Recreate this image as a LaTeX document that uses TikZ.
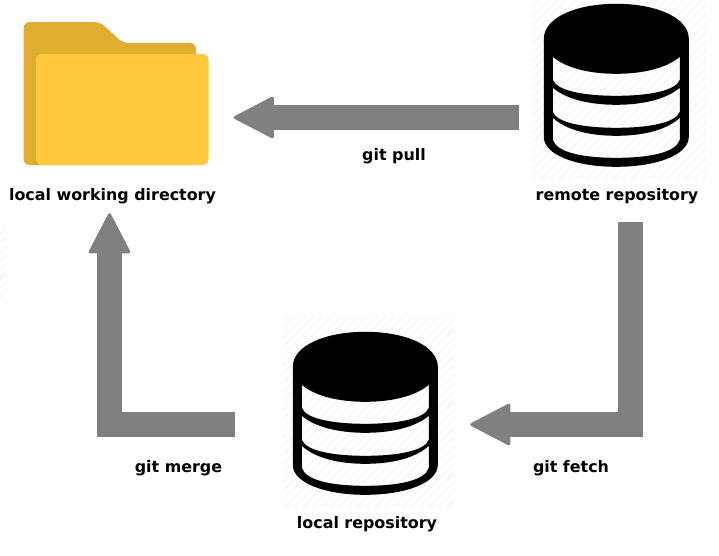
\documentclass[tikz,border=0pt]{standalone}
\usepackage{fontspec}
\setmainfont{DejaVu Sans}
\usetikzlibrary{arrows.meta}
\definecolor{folderback}{HTML}{DFAD30}
\definecolor{folderfront}{HTML}{FFC83D}
\definecolor{hatchgray}{HTML}{F6F6F6}
\tikzset{
  lbl/.style={font=\fontsize{15.9}{18}\selectfont\bfseries, inner sep=0pt, text height=12pt, text depth=3pt},
  iconbox/.style={inner sep=0pt, minimum width=145pt, minimum height=163pt},
  flow/.style={draw=gray, line width=25pt, -{Triangle[length=42pt, width=43pt, round, line width=3pt, fill=gray]}},
  dbicon/.pic={
    \fill[even odd rule] (0,35) .. controls (0,14) and (32,0) .. (72.5,0) .. controls (113,0) and (145,14) .. (145,35)
      -- (145,133) .. controls (145,151) and (113,163) .. (72.5,163) .. controls (32,163) and (0,151) .. (0,133) -- cycle
      \foreach \ya/\yb/\yc/\yd in {53/70/76/92, 84/101/108/124, 114/132/136/154} {
        (9,\ya) .. controls (22,\yb-6) and (45,\yb) .. (72.5,\yb) .. controls (100,\yb) and (123,\yb-6) .. (136,\ya)
        -- (136,\yc) .. controls (132,\yd-5) and (105,\yd) .. (72.5,\yd) .. controls (40,\yd) and (13,\yd-5) .. (9,\yc) -- cycle
      };
  }
}
% faint stripes behind the icons
\newcommand{\hatcharea}[4]{
  \begin{scope}
    \clip (#1,#2) rectangle (#3,#4);
    \foreach \i in {0,9,...,1300} \draw[hatchgray, line width=1.5pt] (\i,0) -- ++(-560,560);
  \end{scope}
}
\begin{document}
\begin{tikzpicture}[x=1pt,y=-1pt]
  \useasboundingbox (0,0) rectangle (719,555);
  \hatcharea{532}{0}{706}{177}
  \hatcharea{283}{316}{454}{505}
  \hatcharea{0}{228}{6}{298}
  % Icons
  \node[iconbox, minimum width=185pt, minimum height=143pt] (folder) at (116,93.5) {};
  \node[iconbox] (remote) at (616.5,85.5) {};
  \node[iconbox] (localrepo) at (365.5,413.5) {};
  \fill[folderback, rounded corners=6pt] (23.5,165) -- (23.5,22) -- (100,22) -- (123,43) -- (196,43) -- (196,165) -- cycle;
  \fill[folderfront, rounded corners=6pt] (36,165) -- (36,54) -- (208.5,54) -- (208.5,165) -- cycle;
  \pic at (remote.north west) {dbicon};
  \pic at (localrepo.north west) {dbicon};
  % Labels
  \node[lbl] (folderlabel) at (112.5,195.5) {local working directory};
  \node[lbl] (remotelabel) at (617,195.5) {remote repository};
  \node[lbl] (locallabel) at (367,523.5) {local repository};
  \node[lbl] (pull) at (394,155.5) {git pull};
  \node[lbl] (fetch) at (571,467.5) {git fetch};
  \node[lbl] (merge) at (178.5,467.5) {git merge};
  % Connections
  \draw[flow, shorten <=25pt, shorten >=25pt] ([yshift=-32pt]remote.west) -- ([yshift=-24pt]folder.east);
  \draw[flow, shorten <=19pt, shorten >=32pt] ([xshift=13.5pt]remotelabel.south) |- ([yshift=-11pt]localrepo.east);
  \draw[flow, shorten <=58pt, shorten >=10pt] ([yshift=-11pt]localrepo.west) -| ([xshift=-3pt]folderlabel.south);
\end{tikzpicture}
\end{document}
